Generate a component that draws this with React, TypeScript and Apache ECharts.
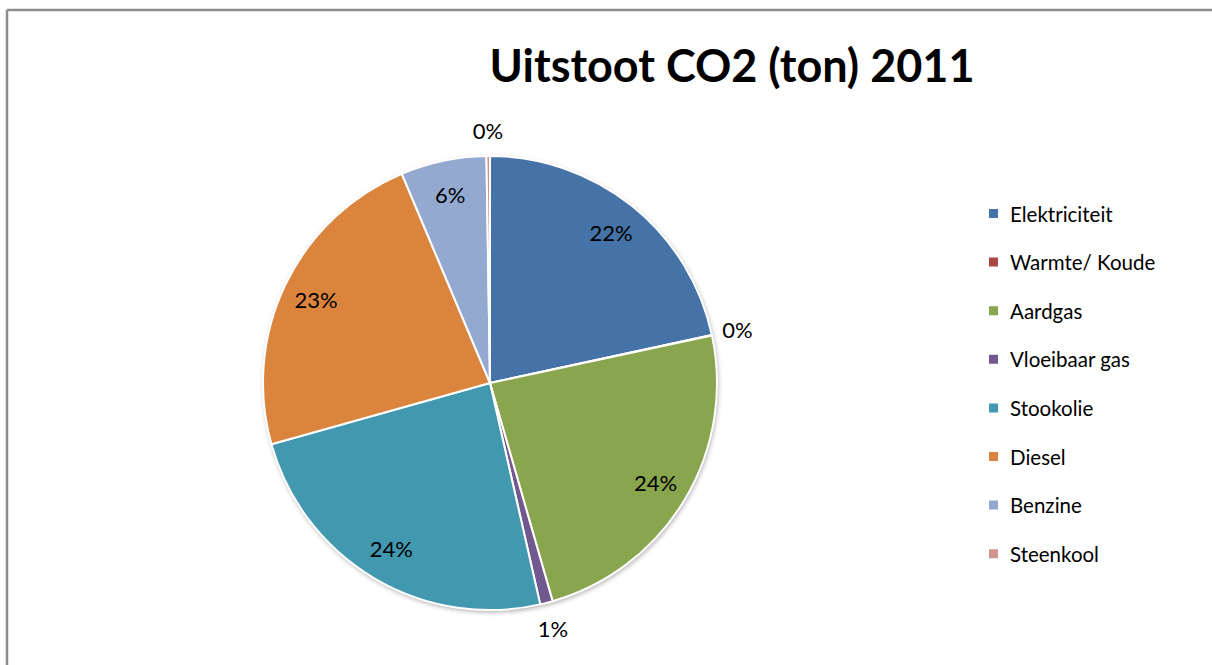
import React, { useEffect, useRef } from "react";
import * as echarts from "echarts";

const categories = [
  "Elektriciteit",
  "Warmte/ Koude",
  "Aardgas",
  "Vloeibaar gas",
  "Stookolie",
  "Diesel",
  "Benzine",
  "Steenkool",
];
const values = [21.6, 0.05, 23.9, 0.9, 24.2, 23.0, 6.1, 0.25];
const colors = ["#4572A7", "#AA4643", "#89A54E", "#71588F", "#4198AF", "#DB843D", "#93A9CF", "#D19392"];
const insideLabelNames = ["Elektriciteit", "Aardgas", "Stookolie", "Diesel", "Benzine"];
const titleText = "Uitstoot CO2 (ton) 2011";

const FONT = "Lato, 'Open Sans', sans-serif";

export default function App() {
  const ref = useRef<HTMLDivElement>(null);
  useEffect(() => {
    if (!ref.current) return;
    const chart = echarts.init(ref.current, undefined, { renderer: "svg" });
    const center = [490, 383];
    const R = 227;
    const fmt = (p: any) => Math.round(p.percent) + "%";
    const labelStyle = { color: "#000", fontSize: 22, fontFamily: FONT };
    const mk = (showFn: (n: string) => boolean) =>
      categories.map((n, i) => ({
        name: n,
        value: values[i],
        label: { show: showFn(n) },
      }));
    chart.setOption({
      animation: false,
      color: colors,
      legend: {
        orient: "vertical",
        left: 982,
        top: 198,
        icon: "rect",
        itemWidth: 11,
        itemHeight: 11,
        itemGap: 27.6,
        selectedMode: false,
        data: categories,
        textStyle: { color: "#000", fontSize: 20.5, fontFamily: FONT, lineHeight: 20, padding: [0, 0, 0, 6] },
      },
      graphic: [
        {
          type: "line",
          shape: { x1: 7, y1: 10, x2: 1212, y2: 10 },
          style: { stroke: "#8c8c8c", lineWidth: 2.5 },
          silent: true,
        },
        {
          type: "line",
          shape: { x1: 7, y1: 10, x2: 7, y2: 665 },
          style: { stroke: "#8c8c8c", lineWidth: 2.5 },
          silent: true,
        },
        {
          type: "rect",
          shape: { x: 1200, y: 12, width: 12, height: 653 },
          style: { fill: "#fff" },
          silent: true,
          z: 100,
        },
        {
          type: "text",
          x: 732,
          y: 65,
          style: {
            text: titleText,
            font: "bold 45px " + FONT,
            fill: "#000",
            align: "center",
            verticalAlign: "middle",
          },
          silent: true,
        },
      ],
      series: [
        {
          type: "pie",
          center,
          radius: R,
          silent: true,
          label: { show: false },
          labelLine: { show: false },
          data: [{ name: "_bg", value: 1 }],
          itemStyle: {
            color: "#fff",
            shadowBlur: 5,
            shadowColor: "rgba(0,0,0,0.35)",
            shadowOffsetX: 1,
            shadowOffsetY: 2,
          },
          z: 1,
        },
        {
          type: "pie",
          center,
          radius: R,
          startAngle: 90,
          clockwise: true,
          silent: true,
          avoidLabelOverlap: false,
          label: { show: false },
          labelLine: { show: false },
          itemStyle: { borderColor: "#fff", borderWidth: 2 },
          data: categories.map((n, i) => ({ name: n, value: values[i] })),
          z: 2,
        },
        {
          type: "pie",
          center,
          radius: [0, 380],
          startAngle: 90,
          clockwise: true,
          silent: true,
          avoidLabelOverlap: false,
          itemStyle: { color: "rgba(0,0,0,0)" },
          label: { position: "inside", formatter: fmt, ...labelStyle },
          labelLine: { show: false },
          data: mk((n) => insideLabelNames.includes(n)),
          z: 3,
        },
        {
          type: "pie",
          center,
          radius: [0, 500],
          startAngle: 90,
          clockwise: true,
          silent: true,
          avoidLabelOverlap: false,
          itemStyle: { color: "rgba(0,0,0,0)" },
          label: { position: "inside", formatter: fmt, ...labelStyle },
          labelLine: { show: false },
          data: mk((n) => !insideLabelNames.includes(n)),
          z: 3,
        },
      ],
    });
    return () => chart.dispose();
  }, []);
  return (
    <div
      ref={ref}
      style={{ position: "fixed", left: 0, top: 0, width: 1212, height: 665, background: "#fff" }}
    />
  );
}
